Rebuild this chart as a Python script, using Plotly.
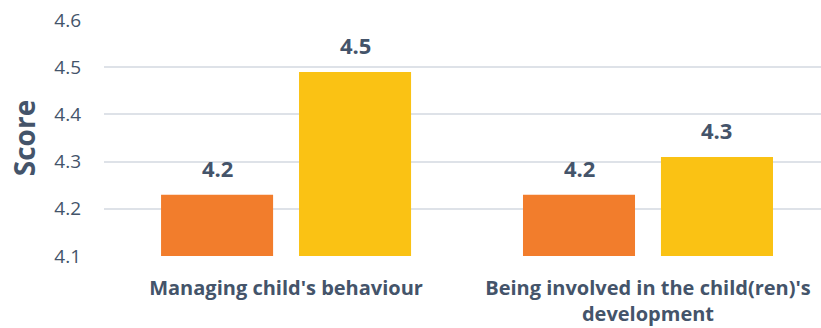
import plotly.graph_objects as go

# Domains on the x axis
categories = ["Managing child's behaviour",
              "Being involved in the child(ren)'s<br>development"]

# Mean scores for the two series
series_names = ["Series 1", "Series 2"]
series_1 = [4.23, 4.23]
series_2 = [4.49, 4.31]

tick_values = [4.1, 4.2, 4.3, 4.4, 4.5, 4.6]

TEXT = "#44546A"
GRID = "#DEE2E8"
FONT = "Open Sans, Noto Sans, sans-serif"

W, H = 821, 328
M_L, M_R, M_T, M_B = 104, 0, 20, 72
X_RANGE = [-0.503, 1.478]
BARGAP = 0.2376
BARGROUPGAP = 0.188

fig = go.Figure()
fig.add_trace(go.Bar(name=series_names[0], x=categories, y=series_1,
                     marker=dict(color="#F27D2C", line=dict(width=0))))
fig.add_trace(go.Bar(name=series_names[1], x=categories, y=series_2,
                     marker=dict(color="#FAC214", line=dict(width=0))))

# value labels above each bar, offset to the centre of its bar slot
px_per_cat = (W - M_L - M_R) / (X_RANGE[1] - X_RANGE[0])
slot_px = px_per_cat * (1 - BARGAP) / 2
annotations = []
for series, sign in ((series_1, -1), (series_2, 1)):
    for cat, val in zip(categories, series):
        annotations.append(dict(
            x=cat, y=val, xref="x", yref="y",
            text=f"{val:.1f}", showarrow=False,
            xanchor="center", yanchor="bottom",
            xshift=sign * slot_px / 2, yshift=10,
            font=dict(family=FONT, size=22, color=TEXT, weight="bold"),
        ))

fig.update_layout(
    width=W, height=H,
    margin=dict(l=M_L, r=M_R, t=M_T, b=M_B),
    paper_bgcolor="white", plot_bgcolor="white",
    barmode="group", bargap=BARGAP, bargroupgap=BARGROUPGAP,
    showlegend=False,
    annotations=annotations,
    font=dict(family=FONT, color=TEXT),
)
fig.update_xaxes(
    range=X_RANGE, showgrid=False, showline=False, zeroline=False,
    ticks="", ticklabelstandoff=18,
    tickfont=dict(family=FONT, size=20, color=TEXT, weight="bold"),
)
fig.update_yaxes(
    range=[4.1, 4.6], tickvals=tick_values, tickformat=".1f",
    showgrid=True, gridcolor=GRID, gridwidth=1.5,
    showline=False, zeroline=False, ticks="", ticklabelstandoff=22,
    tickfont=dict(family=FONT, size=19, color=TEXT),
    title=dict(text="Score", standoff=10,
               font=dict(family=FONT, size=28, color=TEXT, weight="bold")),
)

fig.write_html("out.html")
